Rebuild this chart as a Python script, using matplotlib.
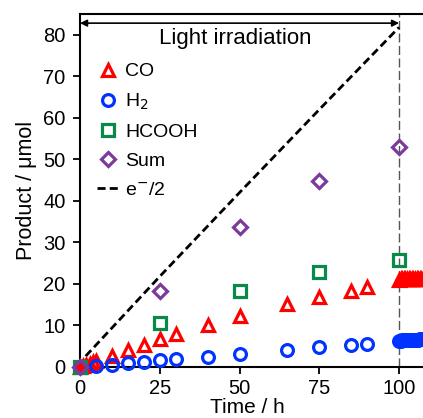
import matplotlib
matplotlib.use("Agg")
import matplotlib.pyplot as plt

plt.rcParams['font.family'] = ['Liberation Sans', 'DejaVu Sans']

# CO (red triangles)
t_co = [0, 1, 2, 3, 4, 5, 10, 15, 20, 25, 30, 40, 50, 65, 75, 85, 90,
        100, 100.5, 101, 101.5, 102, 102.5, 103, 103.5, 104, 104.5, 105,
        105.5, 106, 106.5, 107, 107.5]
co = [0, 0.2, 0.5, 0.8, 1.1, 1.5, 2.7, 4.0, 5.2, 6.7, 7.9, 10.2, 12.3, 15.2,
      16.8, 18.4, 19.2,
      21.0, 21.1, 21.1, 21.2, 21.2, 21.2, 21.2, 21.2, 21.2, 21.2, 21.2,
      21.2, 21.2, 21.2, 21.2, 21.2]

# H2 (blue circles)
t_h2 = [0, 5, 10, 15, 20, 25, 30, 40, 50, 65, 75, 85, 90,
        100, 100.5, 101, 101.5, 102, 102.5, 103, 103.5, 104, 104.5, 105,
        105.5, 106, 106.5, 107, 107.5]
h2 = [0, 0.3, 0.5, 1.0, 1.3, 1.6, 1.9, 2.4, 3.1, 4.0, 4.7, 5.2, 5.5,
      6.3, 6.3, 6.4, 6.4, 6.4, 6.5, 6.5, 6.5, 6.5, 6.6, 6.6,
      6.6, 6.6, 6.7, 6.7, 6.7]

# HCOOH (green squares)
t_hcooh = [0, 25, 50, 75, 100]
hcooh = [0, 10.7, 18.4, 22.8, 25.8]

# Sum (purple diamonds)
t_sum = [0, 25, 50, 75, 100]
total = [0, 18.4, 33.8, 44.7, 52.9]

# e-/2 (dashed line)
t_e = [0, 2, 25, 50, 75, 100]
e_half = [0, 2.8, 21.8, 42.0, 62.0, 81.8]

fig = plt.figure(figsize=(4.23, 4.18), dpi=100)
ax = fig.add_axes([80 / 423, 51 / 418, 343 / 423, 353 / 418])

ms = 9
mew = 2.3
ax.plot(t_co, co, '^', ms=ms, mfc='none', mec='#ff0000', mew=mew, clip_on=False, label='CO', zorder=4)
ax.plot(t_h2, h2, 'o', ms=8.5, mfc='none', mec='#0033ff', mew=mew, clip_on=False, label='H$_2$', zorder=4)
ax.plot(t_hcooh, hcooh, 's', ms=8.5, mfc='none', mec='#0a8a4a', mew=mew, clip_on=False, label='HCOOH', zorder=4)
ax.plot(t_sum, total, 'D', ms=7.5, mfc='none', mec='#7a3a9e', mew=mew, clip_on=False, label='Sum', zorder=4)
ax.plot(t_e, e_half, '--', color='black', lw=2, dashes=(2.9, 1.5), label='e$^{-}$/2', zorder=3)

ax.axvline(100, color='#555555', lw=1.0, dashes=(6.5, 2.5), zorder=2)
ax.annotate('', xy=(0, 82.8), xytext=(100, 82.8),
            arrowprops=dict(arrowstyle='<|-|>', color='black', lw=1.2,
                            mutation_scale=10, shrinkA=0, shrinkB=0))
ax.text(48.6, 79.2, 'Light irradiation', ha='center', va='center', fontsize=16)

ax.set_xlim(0, 107.5)
ax.set_ylim(0, 85)
ax.set_xticks([0, 25, 50, 75, 100])
ax.set_yticks(range(0, 81, 10))
ax.tick_params(labelsize=14.5, direction='out', length=5, width=1.3)
ax.tick_params(axis='y', pad=5.5)
ax.tick_params(axis='x', pad=4)
ax.spines['right'].set_visible(False)
for s in ['left', 'bottom', 'top']:
    ax.spines[s].set_linewidth(1.5)

ax.set_xlabel('Time / h', fontsize=15, va='top')
ax.xaxis.set_label_coords(0.487, -0.088)
ax.set_ylabel('Product / μmol', fontsize=15.5, labelpad=4)

leg = ax.legend(loc='upper left', bbox_to_anchor=(0.05, 0.862), frameon=False,
                fontsize=14, handlelength=1.08, handletextpad=0.36,
                labelspacing=0.58, borderaxespad=0, borderpad=0)

fig.savefig('out.png', dpi=100)
